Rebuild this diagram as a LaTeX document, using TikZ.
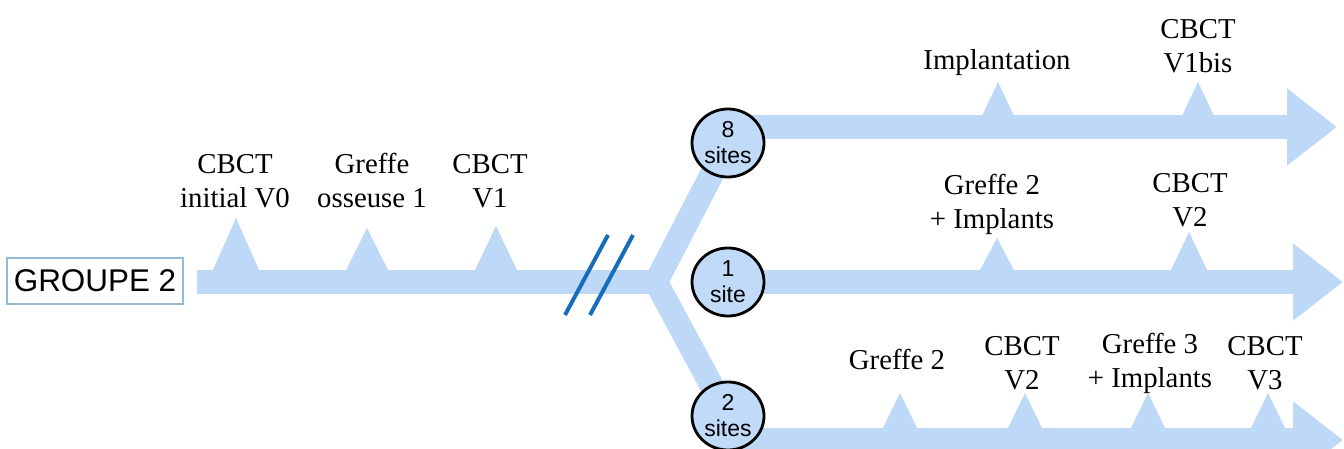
\documentclass[tikz,border=0pt]{standalone}
\usepackage{fontspec}
\setmainfont{Liberation Serif}
\newfontfamily\arialfont{Liberation Sans}
\usepackage{xcolor}
\usepackage{tikz}
\usetikzlibrary{shapes.geometric, arrows.meta, positioning, calc}
\definecolor{bandblue}{RGB}{190,217,247}
\definecolor{siteblue}{RGB}{192,218,248}
\definecolor{slashblue}{RGB}{22,110,186}
\definecolor{boxblue}{RGB}{150,186,212}
\tikzset{
  band/.style={draw=bandblue, line width=12pt},
  bandarrow/.style={draw=bandblue, line width=12pt, -{Triangle[length=25pt, width=37pt]}},
  marker/.style={fill=bandblue},
  slash/.style={draw=slashblue, line width=2pt},
  site/.style={draw=black, line width=1.4pt, fill=siteblue, ellipse, inner sep=0pt, minimum width=36pt, minimum height=34pt, align=center, font=\arialfont\fontsize{11.5}{13}\selectfont},
  groupbox/.style={draw=boxblue, line width=0.8pt, rectangle, minimum width=87pt, minimum height=23pt, font=\arialfont\fontsize{15.7}{18}\selectfont},
  lbl/.style={align=center, inner sep=0pt, font=\fontsize{14.4}{17}\selectfont}
}

\begin{document}
\begin{tikzpicture}[x=0.5pt, y=-0.5pt]
  \useasboundingbox (0,0) rectangle (1344,449);

  % Start and split
  \node [groupbox] (grp) at (95,281) {GROUPE 2};
  \coordinate (start) at (197,282);
  \coordinate (split) at (656,282);

  % Sites (drawn later on top)
  \coordinate (p8) at (728,143);
  \coordinate (p1) at (728,282);
  \coordinate (p2) at (728,416);
  \coordinate (top0) at (728,127);
  \coordinate (top1) at (1337,127);
  \coordinate (mid1) at (1343,282);
  \coordinate (bot0) at (728,440);
  \coordinate (bot1) at (1343,440);

  % Bands
  \draw [band] (start) -- (split);
  \draw [band] (split) -- (p8);
  \draw [band] (split) -- (p2);
  \draw [bandarrow] (top0) -- (top1);
  \draw [bandarrow] (p1) -- (mid1);
  \draw [bandarrow] (bot0) -- (bot1);

  % Markers on the first band
  \fill [marker] (212,272) -- (236,218) -- (260,272) -- cycle;
  \fill [marker] (345,272) -- (367,228) -- (389,272) -- cycle;
  \fill [marker] (474,272) -- (496,226) -- (518,272) -- cycle;

  % Markers on the branches
  \fill [marker] (981,118) -- (998,82) -- (1015,118) -- cycle;
  \fill [marker] (1181,118) -- (1198,82) -- (1215,118) -- cycle;
  \fill [marker] (979,272) -- (997,238) -- (1015,272) -- cycle;
  \fill [marker] (1170,272) -- (1189,232) -- (1208,272) -- cycle;
  \fill [marker] (882,430) -- (900,393) -- (918,430) -- cycle;
  \fill [marker] (1007,430) -- (1025,393) -- (1043,430) -- cycle;
  \fill [marker] (1130,430) -- (1148,393) -- (1166,430) -- cycle;
  \fill [marker] (1250,430) -- (1268,393) -- (1286,430) -- cycle;

  % Break
  \draw [slash] (565,315) -- (608,235);
  \draw [slash] (590,315) -- (633,235);

  \node [site] (s8) at (p8) {8\\sites};
  \node [site] (s1) at (p1) {1\\site};
  \node [site] (s2) at (p2) {2\\sites};

  % Labels
  \node [lbl] (v0) at (235,181) {CBCT\\initial V0};
  \node [lbl] (gr1) at (372,181) {Greffe\\osseuse 1};
  \node [lbl] (v1) at (490,181) {CBCT\\V1};
  \node [lbl] (impl) at (997,63) {Implantation};
  \node [lbl] (v1b) at (1198,46) {CBCT\\V1bis};
  \node [lbl] (gr2a) at (992,204) {Greffe 2\\+ Implants};
  \node [lbl] (v2a) at (1190,200) {CBCT\\V2};
  \node [lbl] (gr2b) at (897,359) {Greffe 2};
  \node [lbl] (v2b) at (1022,363) {CBCT\\V2};
  \node [lbl] (gr3) at (1150,363) {Greffe 3\\+ Implants};
  \node [lbl] (v3) at (1265,363) {CBCT\\V3};
\end{tikzpicture}
\end{document}
